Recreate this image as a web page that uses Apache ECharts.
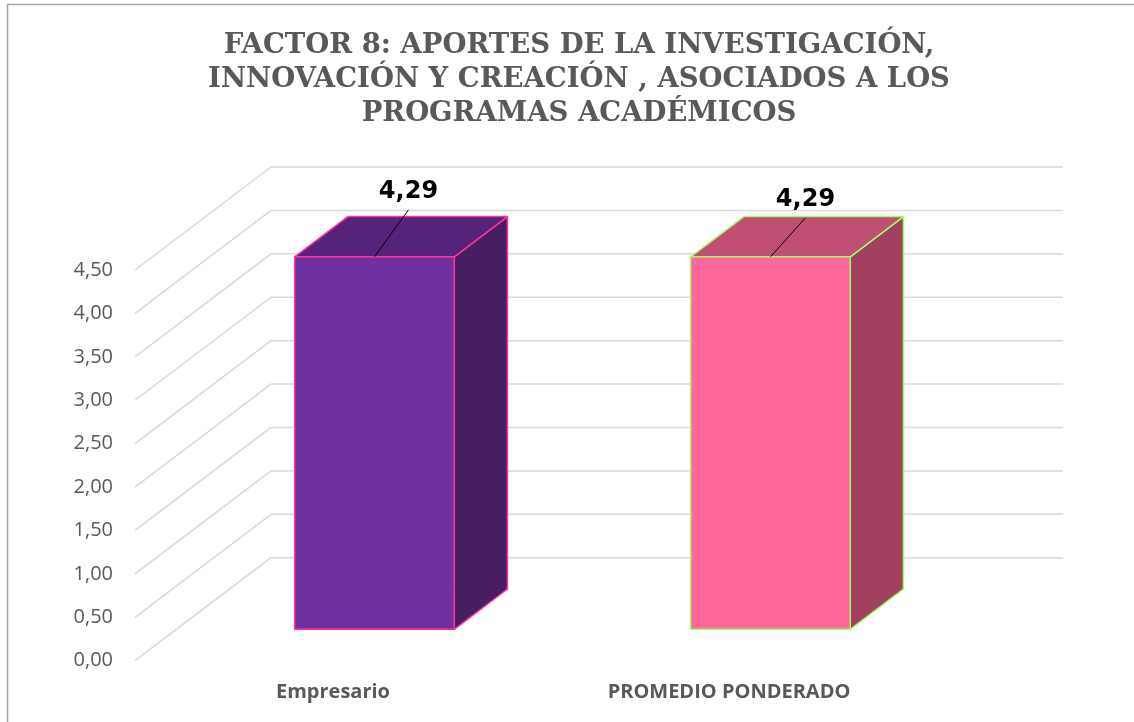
<!DOCTYPE html>
<html><head><meta charset="utf-8">
<script src="https://cdn.jsdelivr.net/npm/echarts@6/dist/echarts.min.js"></script>
<style>html,body{margin:0;padding:0;background:#fff}#c{width:1134px;height:722px}</style>
</head><body><div id="c"></div>
<script>
// ---- data ----
const titleText = 'FACTOR 8: APORTES DE LA INVESTIGACIÓN,\nINNOVACIÓN Y CREACIÓN , ASOCIADOS A LOS\nPROGRAMAS ACADÉMICOS';
const categories = ['Empresario', 'PROMEDIO PONDERADO'];
const values = [4.29, 4.29];
const yTicks = [0, 0.5, 1, 1.5, 2, 2.5, 3, 3.5, 4, 4.5];

// ---- styles ----
const DEPTH = [136, -103];
const BAR_FRONT = 0.305, BAR_BACK = 0.696, BAR_W = 0.403;
const barStyles = [
  {front: '#7030A0', top: '#56237A', side: '#481E62', edge: '#FF3399', label: [34, -65]},
  {front: '#FF6699', top: '#C05073', side: '#A33F5F', edge: '#99FF66', label: [35, -57]}
];
const fmt = v => v.toFixed(2).replace('.', ',');

function renderGrid(params, api) {
  const v = api.value(1);
  const cs = params.coordSys;
  const y = api.coord([0, v])[1];
  const x0 = cs.x, x1 = cs.x + cs.width;
  const st = {stroke: '#D9D9D9', lineWidth: 1.5, fill: null};
  return {type: 'group', children: [
    {type: 'line', shape: {x1: x0, y1: y, x2: x0 + DEPTH[0], y2: y + DEPTH[1]}, style: st},
    {type: 'line', shape: {x1: x0 + DEPTH[0], y1: y + DEPTH[1], x2: x1 + DEPTH[0], y2: y + DEPTH[1]}, style: st}
  ]};
}

function renderBar(params, api) {
  const i = api.value(0), v = api.value(1);
  const s = barStyles[params.dataIndex];
  const base = api.coord([i, 0]), top = api.coord([i, v]);
  const band = api.size([1, 0])[0];
  const w = band * BAR_W;
  const fx = DEPTH[0] * BAR_FRONT, fy = DEPTH[1] * BAR_FRONT;
  const dx = DEPTH[0] * (BAR_BACK - BAR_FRONT), dy = DEPTH[1] * (BAR_BACK - BAR_FRONT);
  const xl = base[0] - w / 2 + fx, xr = base[0] + w / 2 + fx;
  const yb = base[1] + fy, yt = top[1] + fy;
  const cx = base[0] + fx;
  const lx = cx + s.label[0], ly = yt + s.label[1];
  const edge = {stroke: s.edge, lineWidth: 1.5, lineJoin: 'round'};
  return {type: 'group', children: [
    {type: 'polygon', shape: {points: [[xr, yt], [xr, yb], [xr + dx, yb + dy], [xr + dx, yt + dy]]},
      style: Object.assign({fill: s.side}, edge)},
    {type: 'polygon', shape: {points: [[xl, yt], [xr, yt], [xr + dx, yt + dy], [xl + dx, yt + dy]]},
      style: Object.assign({fill: s.top}, edge)},
    {type: 'rect', shape: {x: xl, y: yt, width: xr - xl, height: yb - yt},
      style: Object.assign({fill: s.front}, edge)},
    {type: 'line', shape: {x1: lx, y1: ly + 18, x2: cx, y2: yt}, style: {stroke: '#000', lineWidth: 1}},
    {type: 'text', x: lx, y: ly, style: {text: fmt(v), textAlign: 'center', textVerticalAlign: 'middle',
      fill: '#000', font: 'bold 24px "DejaVu Sans"'}}
  ]};
}

const chart = echarts.init(document.getElementById('c'), null, {renderer: 'canvas'});
chart.setOption({
  backgroundColor: '#fff',
  animation: false,
  title: {
    text: titleText, left: 574, top: 24, textAlign: 'center',
    textStyle: {fontFamily: 'DejaVu Serif', fontWeight: 'bold', fontSize: 27.5, lineHeight: 34, color: '#595959'}
  },
  graphic: [{type: 'rect', silent: true, z: -10, shape: {x: 7.5, y: 4.5, width: 1200, height: 800},
    style: {fill: null, stroke: '#A6A6A6', lineWidth: 1.5}}],
  grid: {left: 135, right: 207, top: 270, bottom: 61.3, containLabel: false},
  xAxis: {
    type: 'category', data: categories, boundaryGap: true,
    axisLine: {show: false}, axisTick: {show: false}, splitLine: {show: false},
    axisLabel: {margin: 22, color: '#595959', fontFamily: 'Open Sans', fontWeight: 'bold', fontSize: 20}
  },
  yAxis: {
    type: 'value', min: 0, max: 4.5, interval: 0.5,
    axisLine: {show: false}, axisTick: {show: false}, splitLine: {show: false},
    axisLabel: {margin: 22, color: '#595959', fontFamily: 'Open Sans', fontSize: 20, formatter: fmt}
  },
  series: [
    {type: 'custom', z: 1, renderItem: renderGrid, encode: {x: 0, y: 1},
      data: yTicks.map(v => [0, v]), silent: true},
    {type: 'custom', z: 2, renderItem: renderBar, encode: {x: 0, y: 1},
      data: values.map((v, i) => [i, v])}
  ]
});
</script></body></html>
